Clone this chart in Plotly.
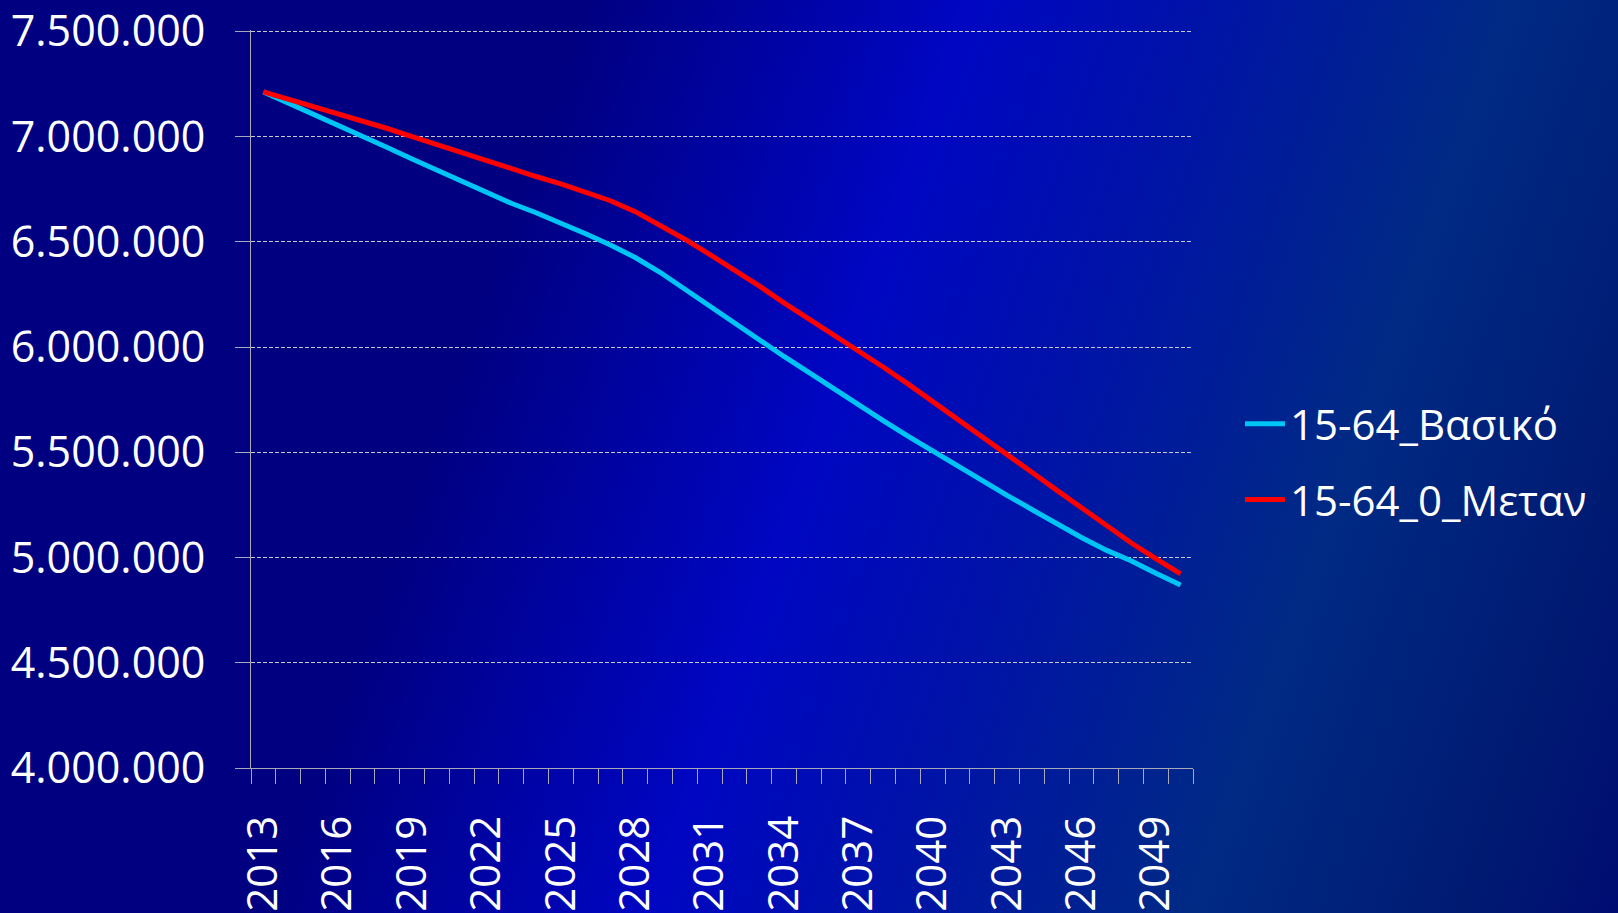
import base64
import plotly.graph_objects as go

# ---------------- data ----------------
years = list(range(2013, 2051))

basic = [7212000, 7160000, 7110000, 7055000, 7000000, 6948000, 6893000, 6840000,
         6785000, 6732000, 6683000, 6638000, 6590000, 6538000, 6485000, 6425000,
         6355000, 6275000, 6195000, 6112000, 6030000, 5955000, 5880000, 5802000,
         5725000, 5650000, 5577000, 5505000, 5435000, 5365000, 5295000, 5228000,
         5160000, 5095000, 5035000, 4985000, 4925000, 4869000]

zero_mig = [7212000, 7178000, 7145000, 7112000, 7075000, 7038000, 7000000, 6962000,
            6922000, 6882000, 6845000, 6810000, 6775000, 6738000, 6695000, 6643000,
            6580000, 6512000, 6440000, 6368000, 6290000, 6210000, 6135000, 6058000,
            5978000, 5905000, 5825000, 5742000, 5660000, 5575000, 5490000, 5405000,
            5320000, 5235000, 5150000, 5070000, 4995000, 4922000]

series_names = ["15-64_Βασικό", "15-64_0_Μεταν"]
y_ticks = [4000000, 4500000, 5000000, 5500000, 6000000, 6500000, 7000000, 7500000]
x_label_years = years[::3]

# ---------------- figure geometry ----------------
W, H = 1618, 913
ML, MR, MT, MB = 251, 425, 30, 145
PW, PH = W - ML - MR, H - MT - MB

FONT = "Open Sans, Noto Sans, DejaVu Sans, sans-serif"
AXIS_COL = "#A8A8B8"
GRID_COL = "#C8C8D0"

# background gradient as inline SVG
svg = (
    f'<svg xmlns="http://www.w3.org/2000/svg" width="{W}" height="{H}" '
    f'viewBox="0 0 {W} {H}" preserveAspectRatio="none">'
    '<defs><linearGradient id="g" gradientUnits="userSpaceOnUse" '
    'x1="0" y1="0" x2="1727" y2="604">'
    '<stop offset="0" stop-color="#000080"/>'
    '<stop offset="0.30" stop-color="#000080"/>'
    '<stop offset="0.50" stop-color="#0006C2"/>'
    '<stop offset="0.63" stop-color="#0014A6"/>'
    '<stop offset="0.78" stop-color="#002A84"/>'
    '<stop offset="0.92" stop-color="#001A72"/>'
    '<stop offset="1" stop-color="#000C72"/>'
    '</linearGradient></defs>'
    f'<rect width="{W}" height="{H}" fill="url(#g)"/></svg>'
)
bg_src = "data:image/svg+xml;base64," + base64.b64encode(svg.encode()).decode()

fig = go.Figure()
fig.add_trace(go.Scatter(x=years, y=basic, mode="lines", name=series_names[0],
                         legendgroup="a",
                         line=dict(color="#00C4F4", width=5)))
fig.add_trace(go.Scatter(x=years, y=zero_mig, mode="lines", name=series_names[1],
                         legendgroup="b",
                         line=dict(color="#FF0000", width=5)))

fig.add_layout_image(dict(
    source=bg_src, xref="paper", yref="paper",
    x=-ML / PW, y=1 + MT / PH, sizex=W / PW, sizey=H / PH,
    xanchor="left", yanchor="top", sizing="stretch", layer="below", opacity=1,
))

fig.update_layout(
    width=W, height=H, autosize=False,
    margin=dict(l=ML, r=MR, t=MT, b=MB, pad=0, autoexpand=False),
    paper_bgcolor="#000080",
    plot_bgcolor="rgba(0,0,0,0)",
    separators=",.",
    font=dict(family=FONT, color="white", size=42),
    showlegend=True,
    legend=dict(
        xref="container", yref="container",
        x=1240 / W, y=1 - 390 / H, xanchor="left", yanchor="top",
        font=dict(family=FONT, size=42, color="white"),
        bgcolor="rgba(0,0,0,0)", tracegroupgap=18, itemwidth=40,
    ),
    xaxis=dict(
        range=[years[0] - 0.5, years[-1] + 0.5],
        automargin=False,
        tickmode="array", tickvals=x_label_years,
        ticktext=[str(y) for y in x_label_years],
        ticks="", tickangle=-90, ticklabelstandoff=30,
        ticklabeloverflow="allow",
        tickfont=dict(family=FONT, size=42, color="white"),
        showgrid=False, zeroline=False,
        showline=True, linecolor=AXIS_COL, linewidth=1,
        minor=dict(tickmode="linear", tick0=years[0] - 0.5, dtick=1,
                   ticks="outside", ticklen=15, tickcolor=AXIS_COL,
                   tickwidth=1, showgrid=False),
    ),
    yaxis=dict(
        range=[y_ticks[0], y_ticks[-1] + 6000],
        automargin=False,
        tickmode="array", tickvals=y_ticks, tickformat=",d",
        ticks="outside", ticklen=15, tickcolor=AXIS_COL, tickwidth=1,
        ticklabelstandoff=21, ticklabeloverflow="allow",
        tickfont=dict(family=FONT, size=43, color="white"),
        showgrid=True, gridcolor=GRID_COL, gridwidth=1, griddash="4px,2px",
        zeroline=False,
        showline=True, linecolor=AXIS_COL, linewidth=1,
    ),
)

fig.write_html("out.html", config={"displayModeBar": False},
               post_script="document.body.style.margin='0';document.body.style.overflow='hidden';")
